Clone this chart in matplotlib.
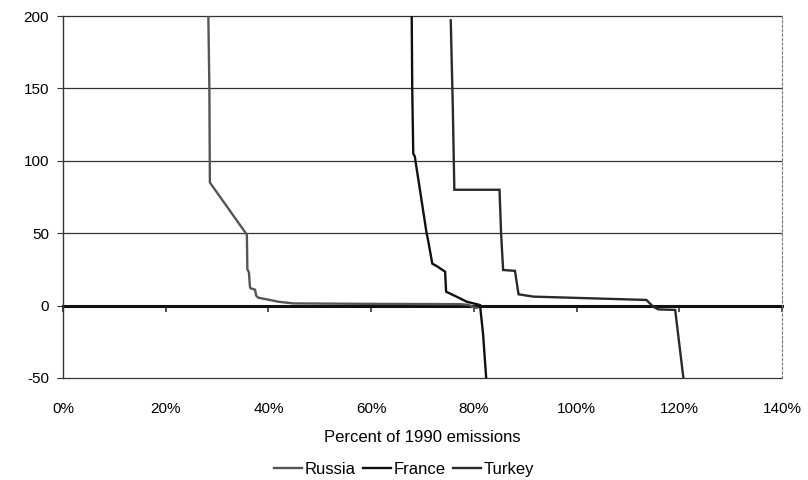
import matplotlib
matplotlib.use("Agg")
import matplotlib.pyplot as plt

plt.rcParams['font.family'] = ['Liberation Sans', 'DejaVu Sans']

# Data: x = percent of 1990 emissions, y = price
russia_x = [28.3, 28.5, 28.6, 35.8, 35.9, 36.2, 36.4, 36.5, 37.4, 37.6, 38.0, 41.9, 44.8, 60.0, 77.3, 79.0, 80.2, 80.6]
russia_y = [200, 150, 85, 49, 25, 23, 13, 12, 11, 7, 5.5, 2.7, 1.5, 1.2, 1.0, 0.5, -1.5, -1.5]

france_x = [67.9, 68.0, 68.2, 68.5, 70.8, 71.1, 71.9, 72.9, 74.4, 74.6, 77.3, 78.6, 81.2, 81.8, 82.4]
france_y = [200, 150, 105, 103, 50, 45, 29, 27, 23.4, 9.6, 5, 2.7, 0.4, -20, -50]

turkey_x = [75.5, 75.9, 76.2, 85.0, 85.3, 85.7, 88.0, 88.7, 91.6, 113.6, 114.9, 115.9, 119.2, 120.8]
turkey_y = [197, 137, 80, 80, 50, 24.6, 24, 7.8, 6.2, 3.9, -0.7, -2.6, -3, -50]

series = [("Russia", russia_x, russia_y, "#555555"),
          ("France", france_x, france_y, "#111111"),
          ("Turkey", turkey_x, turkey_y, "#2a2a2a")]

x_ticks = [0, 20, 40, 60, 80, 100, 120, 140]
x_tick_labels = ["0%", "20%", "40%", "60%", "80%", "100%", "120%", "140%"]
y_ticks = [-50, 0, 50, 100, 150, 200]

fig = plt.figure(figsize=(8.08, 4.8), dpi=100)
ax = fig.add_axes([63/808, 1-378/480, (782-63)/808, (378-16)/480])

# horizontal gridlines (including the borders at -50 and 200)
ax.hlines([v for v in y_ticks if v != 0], 0, 140, colors='#333333', lw=0.9,
          clip_on=False, zorder=1)

for name, xs, ys, c in series:
    ax.plot(xs, ys, color=c, lw=1.7, label=name, solid_joinstyle='miter', zorder=3)

ax.set_xlim(0, 140)
ax.set_ylim(-50, 200)
ax.set_yticks(y_ticks)
ax.set_yticklabels([str(v) for v in y_ticks], fontsize=11)

# x axis crossing at y=0
ax.spines['bottom'].set_position(('data', 0))
ax.spines['bottom'].set_linewidth(2.2)
ax.spines['bottom'].set_color('#111111')
ax.spines['bottom'].set_zorder(2)
ax.spines['top'].set_visible(False)
ax.spines['right'].set_linestyle((0, (2, 2)))
ax.spines['right'].set_color('#777777')
ax.spines['right'].set_linewidth(0.8)
ax.spines['left'].set_color('#333333')
ax.spines['left'].set_linewidth(1.0)
ax.set_xticks(x_ticks)
ax.tick_params(axis='x', direction='out', length=4, width=1.2, labelbottom=False, color='#333333')
ax.tick_params(axis='y', direction='out', length=4, width=0.8, color='#333333', pad=6)

sec = ax.secondary_xaxis(0.0)
sec.set_xticks(x_ticks)
sec.set_xticklabels(x_tick_labels, fontsize=11)
sec.tick_params(length=0, pad=17)
sec.spines['bottom'].set_visible(False)
sec.set_xlabel("Percent of 1990 emissions", fontsize=12, labelpad=10)

fig.legend(loc='lower center', bbox_to_anchor=(0.5, -0.024), ncol=3, frameon=False,
           fontsize=12, handlelength=1.7, handletextpad=0.15, columnspacing=0.45)

fig.savefig("out.png", dpi=100, facecolor='white')
